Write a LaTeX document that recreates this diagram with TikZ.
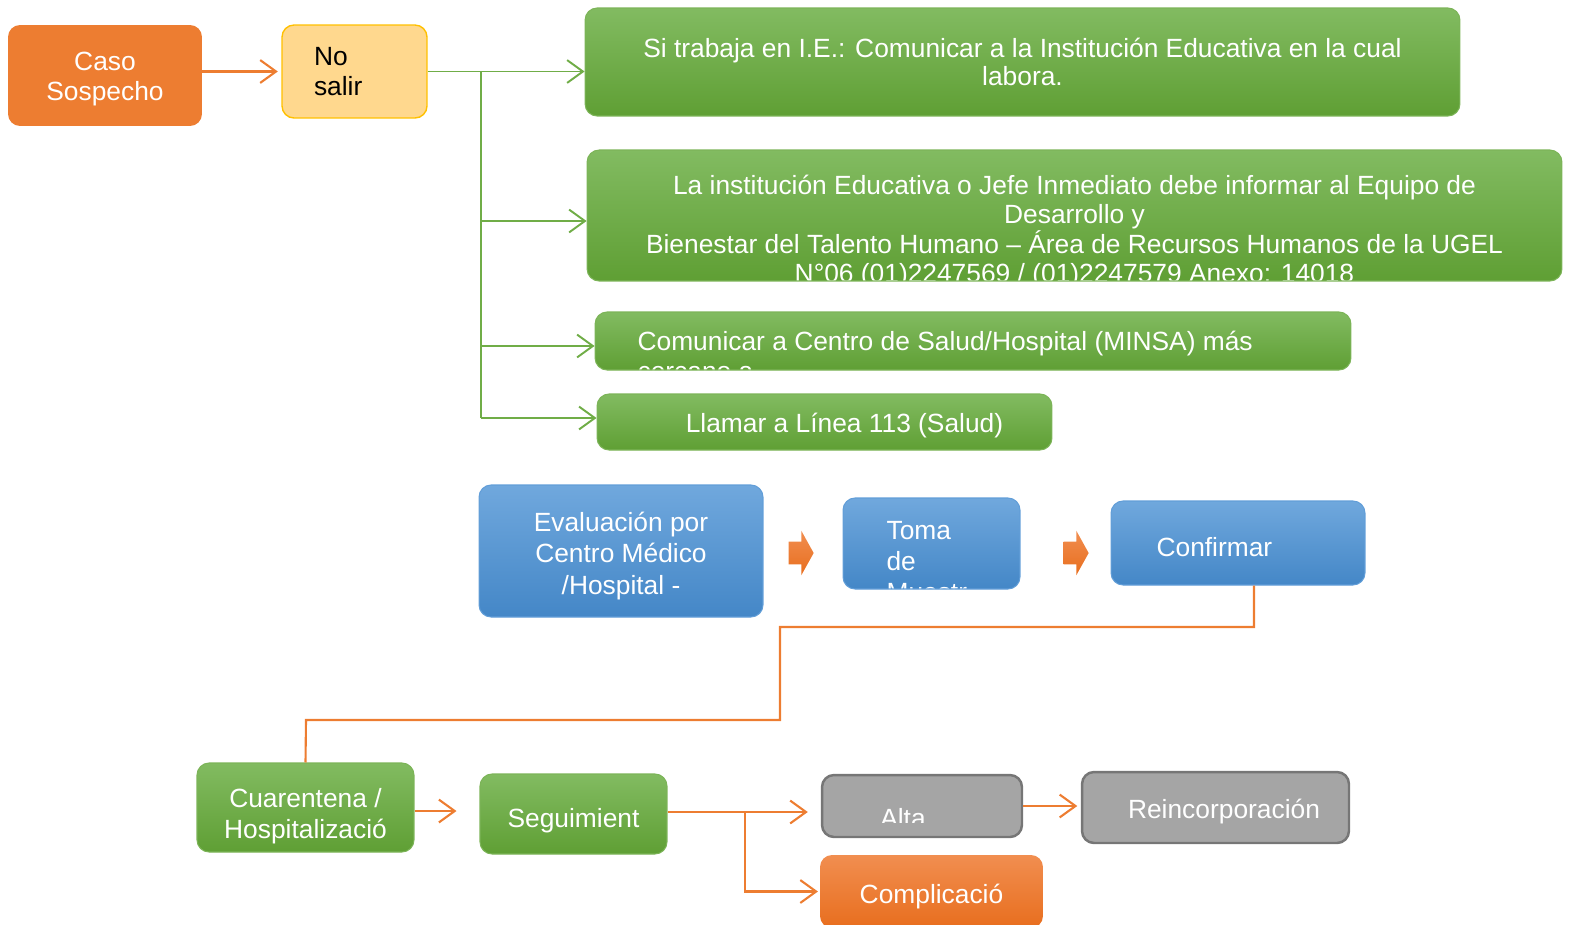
\documentclass[tikz,border=0pt]{standalone}
\usepackage{fontspec}
\setmainfont{Liberation Sans}
\usetikzlibrary{arrows.meta}
\usetikzlibrary{positioning}
\usetikzlibrary{shapes.arrows}

\definecolor{verdeA}{RGB}{130,187,97}
\definecolor{verdeB}{RGB}{95,159,52}
\definecolor{verdeL}{RGB}{124,180,88}
\definecolor{verdeF}{RGB}{112,173,71}
\definecolor{azulA}{RGB}{112,168,221}
\definecolor{azulB}{RGB}{68,135,199}
\definecolor{azulL}{RGB}{98,158,216}
\definecolor{naranja}{RGB}{237,125,49}
\definecolor{naranjaA}{RGB}{241,142,80}
\definecolor{naranjaB}{RGB}{232,110,30}
\definecolor{amarillo}{RGB}{255,216,142}
\definecolor{amarilloL}{RGB}{255,192,0}
\definecolor{gris}{RGB}{165,165,165}
\definecolor{grisL}{RGB}{118,118,118}

\begin{document}
\begin{tikzpicture}[x=0.02cm, y=-0.02cm, >={Straight Barb[length=9pt,width=13pt]}, font=\fontsize{15}{17.5}\selectfont]
	\tikzstyle{caja} = [rounded corners=0.24cm, inner sep=0pt, text=white, align=center];
	\tikzstyle{verde} = [caja, draw=verdeL, line width=0.6pt, top color=verdeA, bottom color=verdeB];
	\tikzstyle{azul} = [caja, draw=azulL, line width=0.6pt, top color=azulA, bottom color=azulB];
	\tikzstyle{gris} = [caja, draw=grisL, line width=1.4pt, fill=gris];
	\tikzstyle{texto} = [inner sep=0pt, minimum width=0pt, minimum height=0pt, text=white, draw=none, fill=none];
	\tikzstyle{flecha} = [single arrow, draw=none, inner xsep=0pt, inner ysep=0.22cm, minimum height=0.5cm, single arrow head extend=0.22cm, single arrow tip angle=122, top color=naranjaA, bottom color=naranjaB];
	\tikzstyle{vlinea} = [draw=verdeF, line width=1.1pt];
	\tikzstyle{vflecha} = [vlinea, ->];
	\tikzstyle{olinea} = [draw=naranja, line width=1.2pt];
	\tikzstyle{oflecha} = [olinea, ->];

	\useasboundingbox (0,0) rectangle (1571,924);

	\node [caja, fill=naranja, minimum width=3.88cm, minimum height=2.02cm, path picture={
		\node [texto, align=center] at ([shift={(0,3.5)}]path picture bounding box.center) {Caso\\Sospecho};
	}] (caso) at (105,75.5) {};
	\node [caja, fill=amarillo, draw=amarilloL, line width=0.8pt, text=black, align=left, minimum width=2.9cm, minimum height=1.86cm, text width=1.62cm, inner xsep=0.64cm] (no_salir) at (354.5,71.5) {No\\salir};

	\node [verde, minimum width=17.5cm, minimum height=2.16cm, font=\fontsize{15}{16.4pt}\selectfont] (ie) at (1022.5,62) {Si trabaja en I.E.: Comunicar a la Institución Educativa en la cual\\labora.};
	\node [verde, minimum width=19.5cm, minimum height=2.62cm, path picture={
		\node [texto, align=center, font=\fontsize{15}{16.6pt}\selectfont] at ([shift={(0,16)}]path picture bounding box.center) {La institución Educativa o Jefe Inmediato debe informar al Equipo de\\Desarrollo y\\Bienestar del Talento Humano – Área de Recursos Humanos de la UGEL\\N°06 (01)2247569 / (01)2247579 Anexo: 14018};
	}] (ugel) at (1074.5,215.5) {};
	\node [verde, minimum width=15.12cm, minimum height=1.16cm, path picture={
		\node [texto, align=left, anchor=west] at ([shift={(42,15)}]path picture bounding box.west) {Comunicar a Centro de Salud/Hospital (MINSA) más\\cercano a};
	}] (minsa) at (973,341) {};
	\node [verde, minimum width=9.1cm, minimum height=1.12cm, path picture={
		\node [texto] at ([shift={(20,4)}]path picture bounding box.center) {Llamar a Línea 113 (Salud)};
	}] (linea) at (824.5,422) {};

	\node [azul, minimum width=5.68cm, minimum height=2.64cm, path picture={
		\node [texto, align=center, font=\fontsize{15}{18pt}\selectfont] at ([shift={(0,5)}]path picture bounding box.center) {Evaluación por\\Centro Médico\\/Hospital -};
	}] (evaluacion) at (621,551) {};
	\node [flecha] (f_1) at (798,553) {};
	\node [azul, minimum width=3.54cm, minimum height=1.82cm, path picture={
		\node [texto, align=left, anchor=west] at ([shift={(43,18)}]path picture bounding box.west) {Toma\\de\\Muestr};
	}] (toma) at (931.5,543.5) {};
	\node [flecha] (f_2) at (1073,553) {};
	\node [azul, minimum width=5.08cm, minimum height=1.68cm, path picture={
		\node [texto, anchor=west] at ([shift={(45,4)}]path picture bounding box.west) {Confirmar};
	}] (confirmar) at (1238,543) {};

	\node [verde, minimum width=4.34cm, minimum height=1.78cm, path picture={
		\node [texto, align=center] at ([shift={(0,9)}]path picture bounding box.center) {Cuarentena /\\Hospitalizació};
	}] (cuarentena) at (305.5,807.5) {};
	\node [verde, minimum width=3.74cm, minimum height=1.6cm, path picture={
		\node [texto] at ([shift={(0,7)}]path picture bounding box.center) {Seguimient};
	}] (seguimiento) at (573.5,814) {};
	\node [gris, minimum width=4cm, minimum height=1.24cm, path picture={
		\clip (path picture bounding box.north west) rectangle ([shift={(0,-15)}]path picture bounding box.south east);
		\node [texto] at ([shift={(-19,12)}]path picture bounding box.center) {Alta};
	}] (alta) at (922,806) {};
	\node [gris, minimum width=5.34cm, minimum height=1.42cm, path picture={
		\node [texto] at ([shift={(8.5,4)}]path picture bounding box.center) {Reincorporación};
	}] (reincorporacion) at (1215.5,807.5) {};
	\node [caja, top color=naranjaA, bottom color=naranjaB, minimum width=4.46cm, minimum height=1.46cm, path picture={
		\node [texto] at ([shift={(0,5)}]path picture bounding box.center) {Complicació};
	}] (complicacion) at (931.5,891.5) {};

	\coordinate (tronco) at (481,71.5);
	\coordinate (r_2) at (481,221);
	\coordinate (r_3) at (481,346);
	\coordinate (r_4) at (481,418);
	\coordinate (k_1) at (780,627);
	\coordinate (k_2) at (306,720);
	\coordinate (k_3) at (745,812);

	\draw [oflecha, shorten >=2pt] (caso.east |- no_salir.west) -- (no_salir.west);
	\draw [vflecha] (no_salir.east) -- (no_salir.east -| ie.west);
	\draw [vlinea] (tronco) -- (r_4);
	\draw [vflecha] (r_2) -- (r_2 -| ugel.west);
	\draw [vflecha] (r_3) -- (r_3 -| minsa.west);
	\draw [vflecha] (r_4) -- (r_4 -| linea.west);

	\draw [olinea] ([xshift=0.32cm]confirmar.south) |- (k_1) |- (k_2) -- (cuarentena.north);
	\draw [oflecha, shorten >=0.46cm] ([yshift=-0.07cm]cuarentena.east) -- ([yshift=-0.07cm]cuarentena.east -| seguimiento.west);
	\draw [olinea] (seguimiento.east |- k_3) -- (k_3);
	\draw [oflecha, shorten >=0.26cm] (k_3) -- (k_3 -| alta.west);
	\draw [oflecha, shorten >=1pt] (k_3) |- (complicacion.west);
	\draw [oflecha, shorten >=2pt] (alta.east) -- (alta.east -| reincorporacion.west);
\end{tikzpicture}
\end{document}
